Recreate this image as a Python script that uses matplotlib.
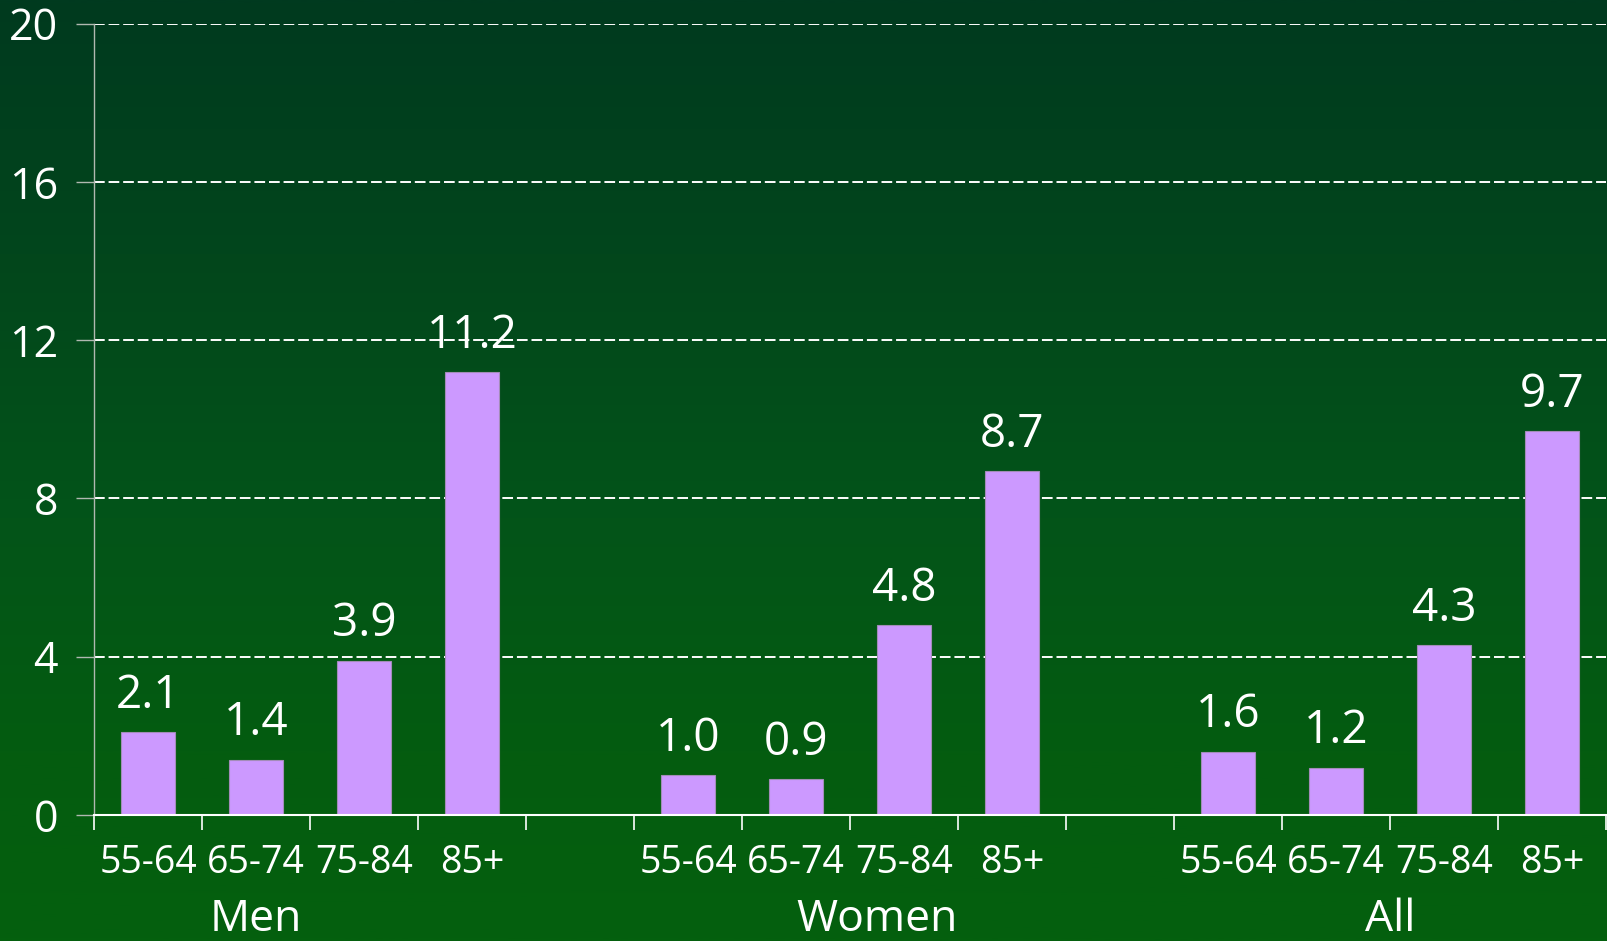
import matplotlib
matplotlib.use("Agg")
import matplotlib.pyplot as plt
import numpy as np
from matplotlib.colors import LinearSegmentedColormap

plt.rcParams['font.family'] = ['Open Sans', 'DejaVu Sans']

# ---- data ----
groups = ["Men", "Women", "All"]
age_bands = ["55-64", "65-74", "75-84", "85+"]
men = [2.1, 1.4, 3.9, 11.2]
women = [1.0, 0.9, 4.8, 8.7]
all_ = [1.6, 1.2, 4.3, 9.7]
y_ticks = [0, 4, 8, 12, 16, 20]

series = [men, women, all_]
group_start = [0, 5, 10]           # slot index where each group's bars begin
group_label_x = [1.0, 6.75, 11.5]  # measured label centres

W, H = 1608, 941
fig = plt.figure(figsize=(W / 100, H / 100), dpi=100)

# gradient background
bg = fig.add_axes([0, 0, 1, 1], zorder=-10)
cmap = LinearSegmentedColormap.from_list(
    "bg", [(0.0, "#003a1f"), (0.27, "#02461c"), (0.55, "#035419"), (0.8, "#045c10"), (1.0, "#04600e")])
grad = np.linspace(0, 1, 512).reshape(-1, 1)
bg.imshow(grad, aspect="auto", cmap=cmap, extent=[0, 1, 0, 1], origin="upper")
bg.set_axis_off()

ax = fig.add_axes([94 / W, 1 - 815 / H, (1606 - 94) / W, (815 - 23.6) / H])
ax.patch.set_alpha(0)

xs, vals, labels = [], [], []
for g, start in enumerate(group_start):
    for i, band in enumerate(age_bands):
        xs.append(start + i)
        vals.append(series[g][i])
        labels.append(band)

ax.bar(xs, vals, width=0.5, color="#cc99ff", edgecolor="#a38cb8", linewidth=0.8, zorder=3)
for x, v in zip(xs, vals):
    ax.annotate(f"{v:.1f}", (x, v), xytext=(0, 9.5), textcoords="offset points",
                ha="center", va="bottom", color="white", fontsize=33, zorder=4)

ax.set_xlim(-0.5, 13.5)
ax.set_ylim(0, 20)
ax.set_yticks(y_ticks)
ax.set_yticklabels([str(t) for t in y_ticks], fontsize=31, color="white")
ax.yaxis.grid(True, color="white", linestyle=(0, (5.5, 2)), linewidth=1.4, zorder=1)
ax.tick_params(axis="y", length=13, width=1, color="#b0b8b0", pad=13)

ax.set_xticks(np.arange(-0.5, 14, 1.0))
ax.set_xticklabels([])
ax.tick_params(axis="x", which="major", length=11, width=1.2, color="white")
ax.set_xticks(xs, minor=True)
ax.set_xticklabels(labels, minor=True, fontsize=27, color="white")
ax.tick_params(axis="x", which="minor", length=0, pad=21)

for s in ["top", "right"]:
    ax.spines[s].set_visible(False)
ax.spines["left"].set_color("#b0b8b0")
ax.spines["left"].set_linewidth(1)
ax.spines["bottom"].set_color("white")
ax.spines["bottom"].set_linewidth(1.5)
ax.spines["bottom"].set_zorder(5)

gy = -(920 - 815) / (815 - 23.6)
for name, gx in zip(groups, group_label_x):
    ax.text(gx, gy, name, transform=ax.get_xaxis_transform(),
            ha="center", va="center", color="white", fontsize=32, clip_on=False)

fig.savefig("out.png", dpi=100)
